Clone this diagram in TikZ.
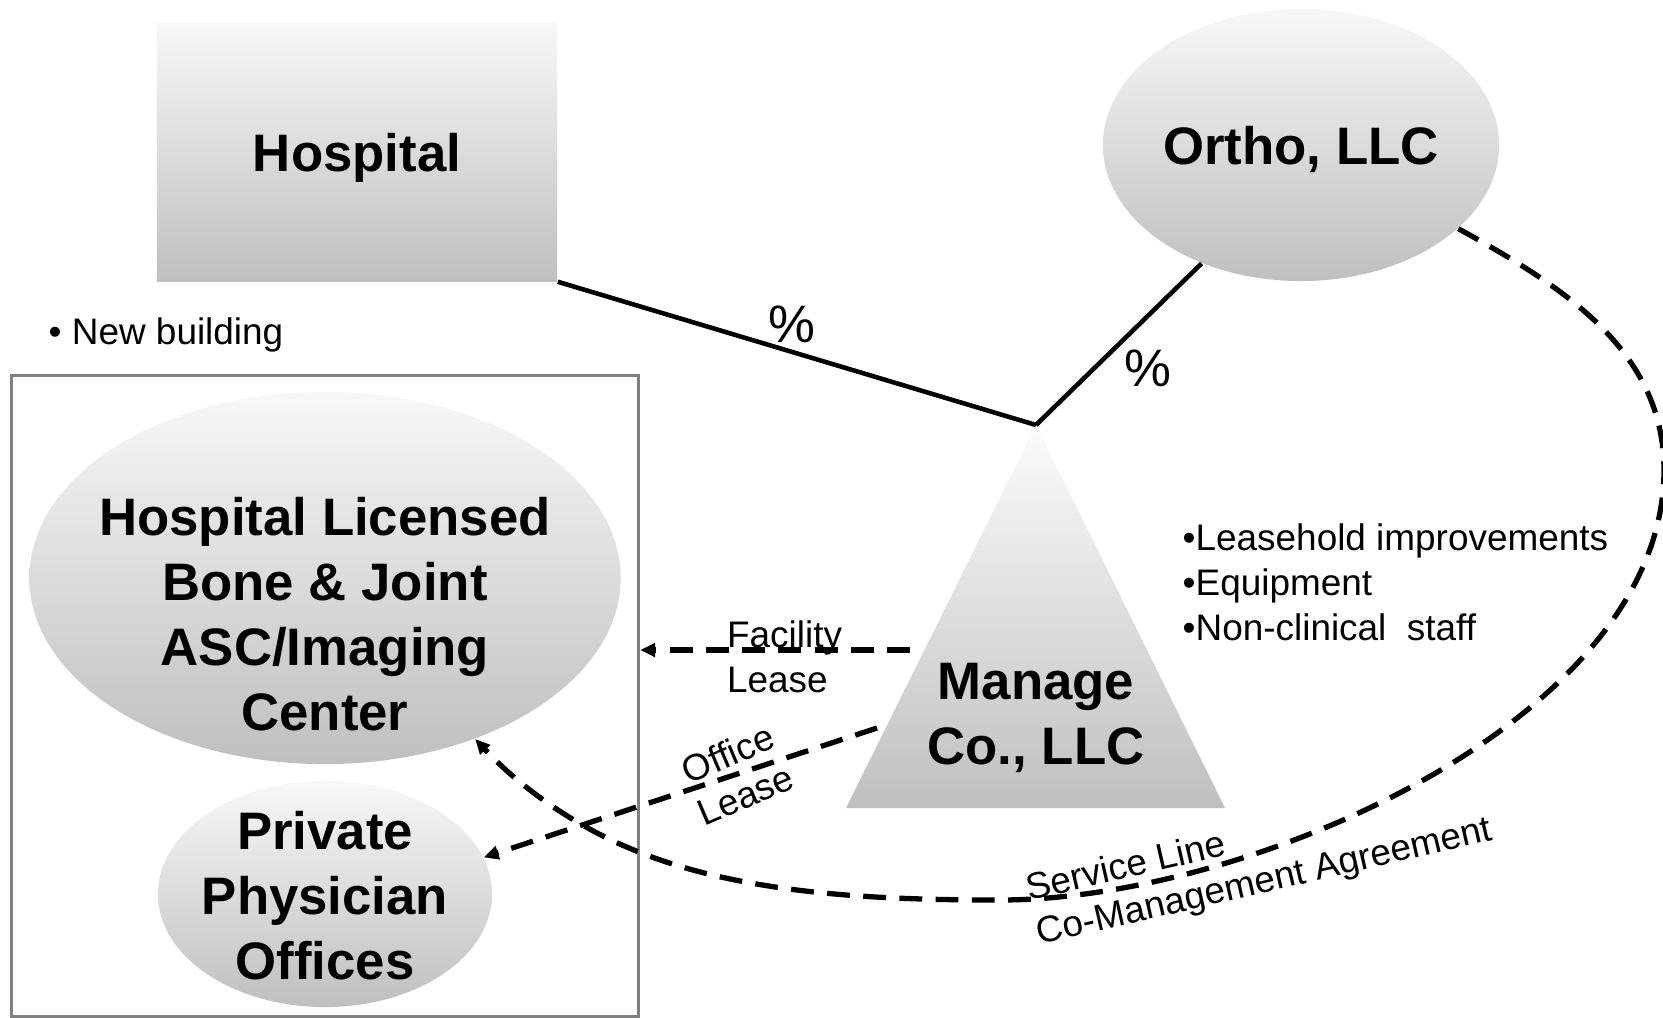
\documentclass[tikz,border=0pt]{standalone}
\usepackage{fontspec}
\setmainfont{Liberation Sans}
\usetikzlibrary{arrows.meta,shapes.geometric}

\begin{document}
\begin{tikzpicture}[x=0.01cm,y=-0.01cm]

\tikzstyle{entity}=[draw=none,top color=gray!6,bottom color=gray!50,inner sep=0pt,text depth=0pt,font=\bfseries\fontsize{15}{18.5}\selectfont]
\tikzstyle{bigtext}=[align=center,inner sep=0pt,font=\bfseries\fontsize{15}{18.5}\selectfont]
\tikzstyle{lbl}=[inner sep=0pt,font=\fontsize{10.5}{12.8}\selectfont]
\tikzstyle{pct}=[inner sep=2pt,font=\fontsize{15}{18}\selectfont]
\tikzstyle{owns}=[line width=1.3pt]
\tikzstyle{lease}=[line width=1.5pt,dash pattern=on 6.5pt off 3.8pt,-{Triangle[length=4.2pt,width=3.8pt]}]

\useasboundingbox (0,0) rectangle (1663,1018);

%Hospital
\node[entity,rectangle,minimum width=4cm,minimum height=2.58cm] (hospital) at (357,152) {Hospital};
\node[lbl,anchor=west] (newbldg) at (48,335) {\textbullet\ New building};

%Ortho
\node[entity,ellipse,minimum width=3.96cm,minimum height=2.72cm] (ortho) at (1301,145) {Ortho, LLC};

%new building box
\node[draw=gray,line width=0.9pt,minimum width=6.27cm,minimum height=6.4cm,inner sep=0pt] (campus) at (325,696) {};

\node[entity,ellipse,minimum width=5.91cm,minimum height=3.72cm] (asc) at (325,578) {};
\node[bigtext] (asclabel) at (325,614) {Hospital Licensed\\Bone \& Joint\\ASC/Imaging\\Center};

\node[entity,ellipse,minimum width=3.34cm,minimum height=2.26cm] (private) at (325,894) {};
\node[bigtext] (privlabel) at (325,896) {Private\\Physician\\Offices};

%Manage Co.
\coordinate (apex) at (1036,425);
\coordinate (baseL) at (846,808);
\coordinate (baseR) at (1225,808);
\shade[top color=gray!3,bottom color=gray!50] (apex) -- (baseR) -- (baseL) -- cycle;
\node[bigtext] (manage) at (1036,718) {Manage\\Co., LLC};

\node[lbl,anchor=west,align=left] (services) at (1182,582) {\textbullet Leasehold improvements\\\textbullet Equipment\\\textbullet Non-clinical\ \ staff};

%ownership
\path [owns] (hospital.south east) edge node[pct,above,pos=0.49] {\%} (apex)
             (ortho.-130) edge node[pct,below right,pos=0.5,inner sep=1pt] {\%} (apex);

%leases
\coordinate (facstart) at (910,650);
\coordinate (offstart) at (877,728);
\path [lease] (facstart) edge node[lbl,align=left,pos=0.465,yshift=-2pt] {Facility\\Lease} (facstart -| campus.east)
              (offstart) edge node[lbl,align=center,rotate=23,pos=0.357] {Office\\Lease} (private.13);

%co-management
\draw [lease] (ortho.-28) .. controls (1562,286) and (1664,350) .. (1664,470)
      .. controls (1664,720) and (1250,900) .. (1000,900)
      .. controls (880,900) and (739,895) .. (629,848)
      .. controls (574,825) and (521,788) .. (asc.-47);
\node[lbl,align=left,rotate=13] (svclabel) at (1259,861) {Service Line\\Co-Management Agreement};

\end{tikzpicture}
\end{document}
